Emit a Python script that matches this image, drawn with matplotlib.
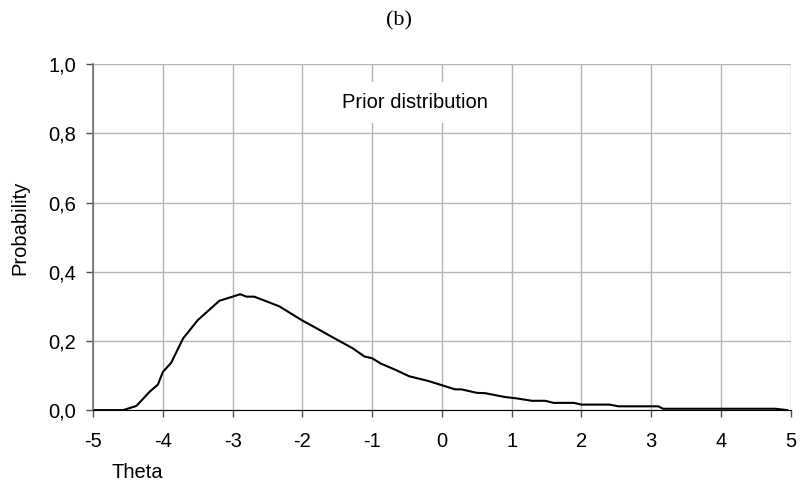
import matplotlib
matplotlib.use("Agg")
from matplotlib import pyplot as plt

theta = [-5.0, -4.57, -4.38, -4.3, -4.19, -4.07, -4.0, -3.88, -3.71, -3.5, -3.19,
         -3.0, -2.89, -2.8, -2.69, -2.47, -2.33, -2.0, -1.8, -1.57, -1.28, -1.11,
         -1.0, -0.88, -0.66, -0.47, -0.19, 0.0, 0.19, 0.28, 0.5, 0.62, 0.9, 1.07,
         1.29, 1.48, 1.6, 1.89, 2.0, 2.4, 2.53, 3.1, 3.17, 4.78, 4.95]
prob = [0.0, 0.0, 0.012, 0.029, 0.053, 0.074, 0.11, 0.137, 0.207, 0.26, 0.316,
        0.328, 0.335, 0.328, 0.328, 0.311, 0.30, 0.259, 0.237, 0.211, 0.179, 0.155,
        0.15, 0.135, 0.116, 0.098, 0.084, 0.072, 0.06, 0.06, 0.05, 0.049, 0.038, 0.034,
        0.027, 0.027, 0.021, 0.021, 0.016, 0.016, 0.011, 0.011, 0.004, 0.004, 0.0]
x_ticks = [-5, -4, -3, -2, -1, 0, 1, 2, 3, 4, 5]
y_ticks = [0.0, 0.2, 0.4, 0.6, 0.8, 1.0]

sans = "Liberation Sans"
fs = 14.5

fig = plt.figure(figsize=(8.02, 4.9), dpi=100)
ax = fig.add_axes([0.116, 0.163, 0.870, 0.706])
ax.plot(theta, prob, color="black", lw=1.5)
ax.set_xlim(-5, 5)
ax.set_ylim(0, 1.0)
ax.set_xticks(x_ticks)
ax.set_yticks(y_ticks)
ax.set_xticklabels([str(t) for t in x_ticks], fontfamily=sans, fontsize=fs)
ax.set_yticklabels([f"{t:.1f}".replace(".", ",") for t in y_ticks], fontfamily=sans, fontsize=fs)
ax.grid(True, color="#b4b4b4", lw=1)
ax.set_axisbelow(True)
for s in ["top", "right"]:
    ax.spines[s].set_visible(False)
ax.spines["left"].set_color("#707070")
ax.spines["left"].set_linewidth(1.2)
ax.spines["bottom"].set_color("black")
ax.tick_params(direction="out", length=5, width=1, color="#505050")
ax.tick_params(axis="x", pad=11)
ax.tick_params(axis="y", pad=7)

ax.text(-0.39, 0.89, "Prior distribution", ha="center", va="center",
        fontfamily=sans, fontsize=fs,
        bbox=dict(facecolor="white", edgecolor="none", pad=8))

fig.text(0.498, 0.957, "(b)", ha="center", va="center", fontfamily="Liberation Serif", fontsize=16)
fig.text(0.025, 0.535, "Probability", rotation=90, ha="center", va="center", fontfamily=sans, fontsize=fs)
fig.text(0.171, 0.035, "Theta", ha="center", va="center", fontfamily=sans, fontsize=fs)

fig.savefig("out.png", dpi=100)
